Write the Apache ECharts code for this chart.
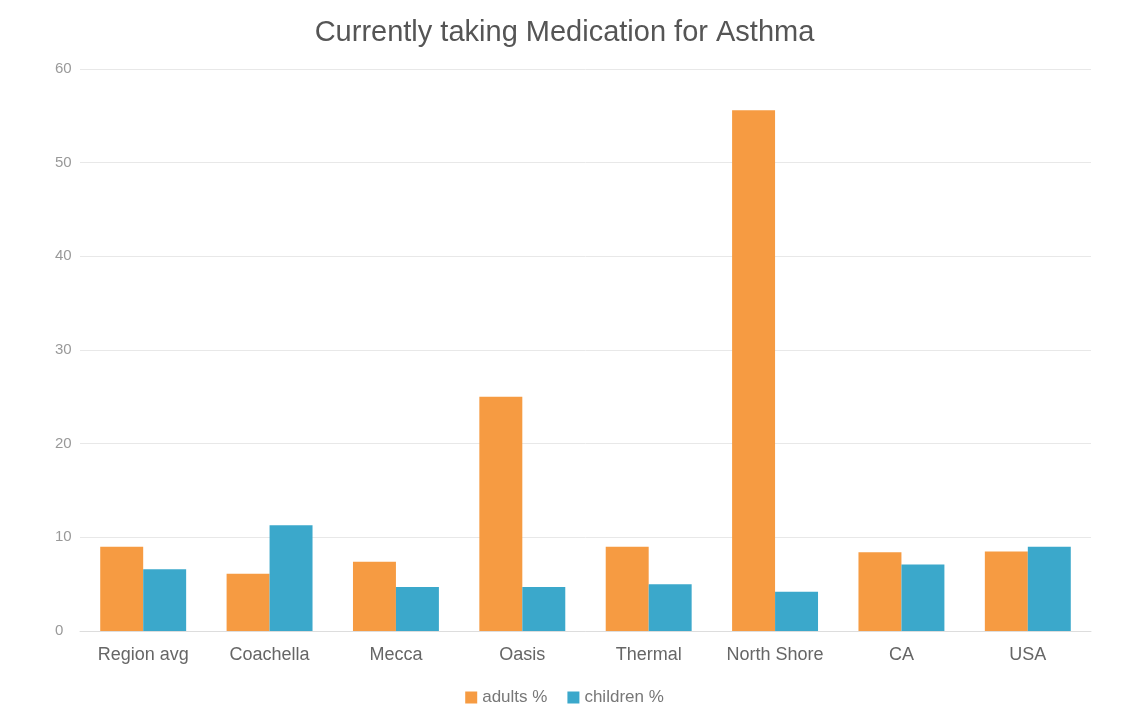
<!DOCTYPE html>
<html>
<head>
<meta charset="utf-8">
<script src="https://cdn.jsdelivr.net/npm/echarts@6/dist/echarts.min.js"></script>
<style>
html,body{margin:0;padding:0;background:#fff;}
#chart{width:1129px;height:728px;}
</style>
</head>
<body>
<div id="chart"></div>
<script>
const categories = ['Region avg','Coachella','Mecca','Oasis','Thermal','North Shore','CA','USA'];
const adults = [9.0, 6.1, 7.4, 25.0, 9.0, 55.6, 8.4, 8.5];
const children = [6.6, 11.3, 4.7, 4.7, 5.0, 4.2, 7.1, 9.0];
const yTicks = {min:0, max:60, interval:10};

const chart = echarts.init(document.getElementById('chart'));
chart.setOption({
  backgroundColor:'#fff',
  title:{text:'Currently taking Medication for Asthma', left:'center', top:13,
    textStyle:{fontFamily:'Liberation Sans, Arial', fontSize:29, fontWeight:'normal', color:'#555'}},
  legend:{bottom:17, left:'center', itemWidth:12, itemHeight:12, itemGap:20,
    icon:'rect', textStyle:{fontFamily:'Liberation Sans, Arial', fontSize:17, color:'#777'}},
  grid:{left:80, right:38, top:69, bottom:97, containLabel:false},
  xAxis:{type:'category', data:categories,
    axisLine:{lineStyle:{color:'#ddd'}}, axisTick:{show:false},
    axisLabel:{fontFamily:'Liberation Sans, Arial', fontSize:18, color:'#666', margin:15}},
  yAxis:{type:'value', min:yTicks.min, max:yTicks.max, interval:yTicks.interval,
    axisLine:{show:false}, axisTick:{show:false},
    splitLine:{lineStyle:{color:'#e8e8e8'}},
    axisLabel:{fontFamily:'Liberation Sans, Arial', fontSize:15, color:'#999', margin:25, align:'left'}},
  series:[
    {name:'adults %', type:'bar', data:adults, itemStyle:{color:'#F69B42'}, barGap:'0%', barCategoryGap:'32%'},
    {name:'children %', type:'bar', data:children, itemStyle:{color:'#3BA8CB'}}
  ]
});
</script>
</body>
</html>
